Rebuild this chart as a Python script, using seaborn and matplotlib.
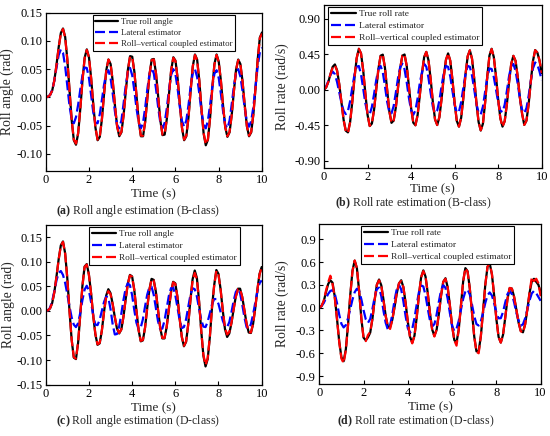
import numpy as np
import pandas as pd
import matplotlib as mpl
mpl.use("Agg")
import matplotlib.pyplot as plt
import seaborn as sns

# time axis shared by every trace (s)
time_s = [round(0.1 * i, 1) for i in range(101)]

# (a) roll angle, B-class (rad)
a_true = [0.000, 0.001, 0.004, 0.012, 0.030, 0.058, 0.089, 0.114, 0.122, 0.107,
          0.067, 0.013, -0.040, -0.076, -0.084, -0.064, -0.020, 0.030, 0.070, 0.085,
          0.071, 0.034, -0.013, -0.054, -0.076, -0.070, -0.038, 0.007, 0.048, 0.067,
          0.059, 0.028, -0.014, -0.051, -0.069, -0.062, -0.032, 0.010, 0.049, 0.073,
          0.072, 0.045, 0.002, -0.042, -0.069, -0.069, -0.043, -0.001, 0.041, 0.067,
          0.068, 0.042, 0.001, -0.041, -0.067, -0.066, -0.038, 0.006, 0.048, 0.071,
          0.065, 0.033, -0.012, -0.054, -0.076, -0.069, -0.036, 0.012, 0.055, 0.076,
          0.067, 0.030, -0.020, -0.064, -0.085, -0.075, -0.036, 0.016, 0.059, 0.076,
          0.063, 0.029, -0.015, -0.053, -0.070, -0.062, -0.031, 0.011, 0.049, 0.067,
          0.059, 0.028, -0.014, -0.051, -0.069, -0.062, -0.030, 0.017, 0.067, 0.106,
          0.115]
a_lateral = [0.000, 0.001, 0.004, 0.013, 0.030, 0.053, 0.075, 0.085, 0.079, 0.055,
             0.020, -0.015, -0.039, -0.046, -0.035, -0.013, 0.014, 0.039, 0.053, 0.052,
             0.034, 0.004, -0.027, -0.045, -0.046, -0.030, -0.004, 0.023, 0.043, 0.048,
             0.034, 0.006, -0.025, -0.049, -0.055, -0.041, -0.011, 0.021, 0.045, 0.052,
             0.039, 0.011, -0.020, -0.045, -0.055, -0.045, -0.018, 0.015, 0.042, 0.052,
             0.042, 0.015, -0.018, -0.045, -0.055, -0.045, -0.019, 0.014, 0.040, 0.050,
             0.040, 0.015, -0.017, -0.042, -0.052, -0.041, -0.014, 0.019, 0.043, 0.050,
             0.036, 0.007, -0.025, -0.048, -0.055, -0.041, -0.013, 0.018, 0.042, 0.048,
             0.034, 0.006, -0.025, -0.049, -0.055, -0.041, -0.012, 0.020, 0.043, 0.050,
             0.037, 0.011, -0.019, -0.043, -0.052, -0.042, -0.017, 0.019, 0.055, 0.080,
             0.088]
a_coupled = [0.000, 0.001, 0.004, 0.012, 0.030, 0.057, 0.088, 0.113, 0.121, 0.106,
             0.066, 0.013, -0.040, -0.075, -0.082, -0.063, -0.020, 0.030, 0.069, 0.084,
             0.071, 0.034, -0.013, -0.054, -0.075, -0.069, -0.038, 0.007, 0.048, 0.067,
             0.059, 0.028, -0.014, -0.051, -0.068, -0.061, -0.032, 0.010, 0.049, 0.072,
             0.071, 0.045, 0.002, -0.042, -0.068, -0.068, -0.043, -0.001, 0.041, 0.066,
             0.067, 0.042, 0.001, -0.041, -0.066, -0.065, -0.038, 0.006, 0.048, 0.070,
             0.064, 0.033, -0.012, -0.054, -0.075, -0.068, -0.036, 0.012, 0.055, 0.075,
             0.066, 0.030, -0.020, -0.063, -0.083, -0.074, -0.036, 0.016, 0.058, 0.075,
             0.062, 0.029, -0.015, -0.053, -0.069, -0.061, -0.031, 0.011, 0.049, 0.066,
             0.058, 0.028, -0.014, -0.051, -0.068, -0.061, -0.030, 0.017, 0.066, 0.105,
             0.113]

# (b) roll rate, B-class (rad/s)
b_true = [0.00, 0.03, 0.10, 0.20, 0.29, 0.32, 0.245, 0.07, -0.156, -0.382,
          -0.52, -0.542, -0.41, -0.151, 0.15, 0.397, 0.517, 0.461, 0.246, -0.051,
          -0.32, -0.462, -0.43, -0.254, 0.008, 0.265, 0.431, 0.444, 0.278, -0.001,
          -0.272, -0.421, -0.392, -0.224, 0.027, 0.273, 0.432, 0.446, 0.301, 0.042,
          -0.23, -0.418, -0.452, -0.322, -0.075, 0.203, 0.413, 0.479, 0.373, 0.131,
          -0.156, -0.377, -0.449, -0.349, -0.119, 0.157, 0.376, 0.46, 0.367, 0.128,
          -0.166, -0.396, -0.469, -0.358, -0.106, 0.193, 0.424, 0.499, 0.391, 0.141,
          -0.161, -0.409, -0.519, -0.432, -0.167, 0.167, 0.432, 0.519, 0.414, 0.172,
          -0.122, -0.363, -0.469, -0.40, -0.186, 0.092, 0.327, 0.429, 0.364, 0.162,
          -0.105, -0.306, -0.447, -0.393, -0.185, 0.103, 0.365, 0.502, 0.47, 0.37,
          0.21]
b_lateral = [0.00, 0.04, 0.11, 0.19, 0.23, 0.196, 0.097, -0.033, -0.167, -0.268,
             -0.31, -0.271, -0.145, 0.026, 0.19, 0.292, 0.30, 0.196, 0.015, -0.174,
             -0.298, -0.311, -0.22, -0.056, 0.123, 0.258, 0.30, 0.222, 0.046, -0.152,
             -0.286, -0.301, -0.207, -0.037, 0.148, 0.286, 0.329, 0.258, 0.094, -0.104,
             -0.26, -0.32, -0.262, -0.11, 0.083, 0.22, 0.328, 0.291, 0.149, -0.044,
             -0.215, -0.297, -0.265, -0.137, 0.042, 0.207, 0.301, 0.289, 0.168, -0.014,
             -0.189, -0.291, -0.279, -0.158, 0.024, 0.199, 0.301, 0.29, 0.178, 0.004,
             -0.175, -0.293, -0.314, -0.215, -0.03, 0.157, 0.269, 0.262, 0.161, 0.003,
             -0.159, -0.266, -0.284, -0.192, -0.019, 0.169, 0.30, 0.325, 0.238, 0.072,
             -0.114, -0.255, -0.299, -0.233, -0.079, 0.11, 0.271, 0.345, 0.32, 0.23,
             0.12]
b_coupled = [0.00, 0.03, 0.10, 0.20, 0.28, 0.31, 0.24, 0.07, -0.156, -0.385,
             -0.525, -0.55, -0.415, -0.151, 0.15, 0.40, 0.52, 0.46, 0.246, -0.051,
             -0.32, -0.46, -0.43, -0.254, 0.008, 0.265, 0.431, 0.444, 0.278, -0.001,
             -0.272, -0.421, -0.392, -0.224, 0.027, 0.273, 0.432, 0.446, 0.301, 0.042,
             -0.23, -0.418, -0.452, -0.322, -0.075, 0.203, 0.413, 0.479, 0.373, 0.131,
             -0.156, -0.377, -0.449, -0.349, -0.119, 0.157, 0.376, 0.46, 0.367, 0.128,
             -0.166, -0.396, -0.469, -0.358, -0.106, 0.193, 0.424, 0.499, 0.391, 0.141,
             -0.161, -0.409, -0.515, -0.432, -0.167, 0.167, 0.432, 0.515, 0.414, 0.172,
             -0.122, -0.363, -0.469, -0.40, -0.186, 0.092, 0.327, 0.429, 0.364, 0.162,
             -0.105, -0.306, -0.447, -0.393, -0.185, 0.103, 0.365, 0.50, 0.47, 0.37,
             0.21]

# (c) roll angle, D-class (rad)
c_true = [0.000, 0.001, 0.005, 0.016, 0.038, 0.070, 0.105, 0.133, 0.141, 0.117,
          0.066, 0.001, -0.058, -0.095, -0.098, -0.065, -0.008, 0.051, 0.090, 0.095,
          0.074, 0.036, -0.010, -0.048, -0.069, -0.066, -0.040, -0.002, 0.031, 0.044,
          0.036, 0.014, -0.013, -0.036, -0.046, -0.038, -0.012, 0.023, 0.055, 0.073,
          0.070, 0.043, 0.001, -0.039, -0.062, -0.060, -0.034, 0.006, 0.043, 0.065,
          0.063, 0.039, 0.002, -0.034, -0.056, -0.056, -0.033, 0.003, 0.038, 0.059,
          0.056, 0.028, -0.015, -0.053, -0.072, -0.063, -0.027, 0.022, 0.064, 0.082,
          0.067, 0.020, -0.040, -0.091, -0.113, -0.098, -0.053, 0.007, 0.052, 0.083,
          0.075, 0.043, 0.000, -0.037, -0.053, -0.046, -0.025, 0.003, 0.029, 0.045,
          0.045, 0.028, 0.001, -0.026, -0.044, -0.045, -0.027, 0.005, 0.043, 0.075,
          0.089]
c_lateral = [0.000, 0.001, 0.006, 0.020, 0.040, 0.062, 0.077, 0.081, 0.073, 0.057,
             0.034, 0.009, -0.013, -0.028, -0.033, -0.025, -0.004, 0.022, 0.043, 0.051,
             0.041, 0.018, -0.010, -0.028, -0.029, -0.018, 0.000, 0.018, 0.029, 0.027,
             0.004, -0.027, -0.048, -0.047, -0.032, -0.006, 0.022, 0.045, 0.056, 0.052,
             0.032, 0.002, -0.024, -0.037, -0.034, -0.017, 0.009, 0.033, 0.048, 0.049,
             0.033, 0.006, -0.021, -0.037, -0.036, -0.020, 0.005, 0.030, 0.046, 0.048,
             0.032, 0.007, -0.019, -0.035, -0.033, -0.017, 0.008, 0.032, 0.046, 0.044,
             0.029, 0.005, -0.018, -0.032, -0.033, -0.022, -0.005, 0.013, 0.024, 0.024,
             0.014, -0.003, -0.020, -0.031, -0.033, -0.023, -0.003, 0.020, 0.038, 0.045,
             0.036, 0.013, -0.013, -0.033, -0.036, -0.027, -0.008, 0.016, 0.039, 0.056,
             0.062]
c_coupled = [0.000, 0.001, 0.005, 0.016, 0.038, 0.069, 0.104, 0.132, 0.140, 0.116,
             0.066, 0.001, -0.058, -0.094, -0.097, -0.064, -0.008, 0.050, 0.089, 0.094,
             0.073, 0.036, -0.010, -0.047, -0.068, -0.065, -0.040, -0.003, 0.029, 0.040,
             0.034, 0.014, -0.012, -0.035, -0.045, -0.038, -0.012, 0.023, 0.054, 0.072,
             0.069, 0.043, 0.001, -0.039, -0.061, -0.059, -0.034, 0.006, 0.042, 0.064,
             0.062, 0.039, 0.002, -0.034, -0.055, -0.055, -0.033, 0.003, 0.037, 0.058,
             0.055, 0.028, -0.015, -0.052, -0.071, -0.062, -0.027, 0.021, 0.061, 0.077,
             0.064, 0.019, -0.040, -0.089, -0.110, -0.096, -0.052, 0.007, 0.051, 0.081,
             0.073, 0.042, 0.001, -0.034, -0.048, -0.043, -0.024, 0.003, 0.028, 0.044,
             0.044, 0.028, 0.001, -0.026, -0.043, -0.044, -0.027, 0.005, 0.042, 0.074,
             0.088]

# (d) roll rate, D-class (rad/s)
d_true = [0.00, 0.02, 0.08, 0.20, 0.31, 0.36, 0.328, 0.144, -0.143, -0.443,
          -0.653, -0.705, -0.548, -0.221, 0.168, 0.485, 0.619, 0.519, 0.219, -0.143,
          -0.394, -0.43, -0.39, -0.33, -0.15, 0.10, 0.30, 0.37, 0.295, 0.106,
          -0.11, -0.251, -0.257, -0.158, 0.008, 0.187, 0.318, 0.36, 0.269, 0.062,
          -0.187, -0.384, -0.46, -0.369, -0.132, 0.162, 0.399, 0.49, 0.408, 0.193,
          -0.073, -0.288, -0.37, -0.292, -0.088, 0.156, 0.339, 0.387, 0.269, 0.029,
          -0.239, -0.427, -0.46, -0.286, 0.03, 0.346, 0.52, 0.48, 0.253, -0.069,
          -0.38, -0.575, -0.573, -0.372, -0.041, 0.304, 0.537, 0.581, 0.436, 0.16,
          -0.15, -0.385, -0.459, -0.358, -0.133, 0.112, 0.256, 0.251, 0.145, -0.022,
          -0.192, -0.305, -0.324, -0.218, -0.019, 0.196, 0.346, 0.38, 0.34, 0.30,
          0.20]
d_lateral = [0.00, 0.02, 0.06, 0.12, 0.18, 0.22, 0.23, 0.183, 0.061, -0.091,
             -0.213, -0.26, -0.229, -0.138, -0.018, 0.107, 0.204, 0.249, 0.22, 0.111,
             -0.033, -0.153, -0.20, -0.149, -0.019, 0.135, 0.244, 0.263, 0.153, -0.041,
             -0.199, -0.29, -0.234, -0.086, 0.096, 0.244, 0.30, 0.24, 0.082, -0.112,
             -0.27, -0.33, -0.278, -0.14, 0.04, 0.202, 0.292, 0.279, 0.163, -0.011,
             -0.169, -0.248, -0.216, -0.092, 0.076, 0.225, 0.298, 0.261, 0.118, -0.072,
             -0.238, -0.309, -0.277, -0.173, -0.027, 0.116, 0.214, 0.238, 0.172, 0.038,
             -0.111, -0.216, -0.236, -0.178, -0.065, 0.063, 0.162, 0.20, 0.159, 0.055,
             -0.063, -0.14, -0.139, -0.058, 0.067, 0.177, 0.22, 0.179, 0.072, -0.065,
             -0.162, -0.238, -0.219, -0.139, -0.022, 0.098, 0.188, 0.22, 0.19, 0.14,
             0.09]
d_coupled = [0.00, 0.02, 0.09, 0.22, 0.33, 0.42, 0.31, 0.13, -0.15, -0.45,
             -0.67, -0.73, -0.56, -0.23, 0.16, 0.48, 0.62, 0.52, 0.22, -0.14,
             -0.40, -0.44, -0.36, -0.32, -0.15, 0.10, 0.30, 0.36, 0.29, 0.10,
             -0.11, -0.25, -0.28, -0.16, 0.01, 0.19, 0.32, 0.35, 0.27, 0.06,
             -0.19, -0.39, -0.47, -0.37, -0.13, 0.16, 0.40, 0.48, 0.41, 0.19,
             -0.07, -0.29, -0.38, -0.29, -0.09, 0.16, 0.34, 0.38, 0.27, 0.03,
             -0.24, -0.43, -0.50, -0.29, 0.03, 0.35, 0.52, 0.47, 0.25, -0.07,
             -0.38, -0.58, -0.60, -0.37, -0.04, 0.30, 0.54, 0.58, 0.44, 0.16,
             -0.15, -0.39, -0.46, -0.36, -0.13, 0.11, 0.26, 0.25, 0.14, -0.02,
             -0.19, -0.31, -0.33, -0.22, -0.02, 0.20, 0.40, 0.35, 0.38, 0.32,
             0.15]

series_names = ["true", "lateral", "coupled"]
angle_labels = ["True roll angle", "Lateral estimator", "Roll\u2013vertical coupled estimator"]
rate_labels = ["True roll rate", "Lateral estimator", "Roll\u2013vertical coupled estimator"]

sns.set_theme(style="ticks")
plt.rcParams["font.family"] = ["Liberation Serif", "DejaVu Serif"]
plt.rcParams["mathtext.fontset"] = "custom"
plt.rcParams["mathtext.rm"] = "Liberation Serif"
plt.rcParams["mathtext.bf"] = "Liberation Serif:bold"
plt.rcParams["axes.edgecolor"] = "black"
plt.rcParams["axes.linewidth"] = 0.9
plt.rcParams["xtick.direction"] = "in"
plt.rcParams["ytick.direction"] = "in"
plt.rcParams["xtick.color"] = "black"
plt.rcParams["ytick.color"] = "black"

fig = plt.figure(figsize=(5.5, 4.36), dpi=100)

panels = [
    # rect, data, labels, ylabel, ylim, yticks, fmt, legend anchor, legend size,
    # caption, caption xy, ylabel x, xlabel pad
    ([0.0831, 0.6085, 0.3933, 0.3624], (a_true, a_lateral, a_coupled), angle_labels,
     "Roll angle (rad)", (-0.13, 0.15), [-0.10, -0.05, 0.00, 0.05, 0.10, 0.15], "%.2f",
     (0.218, 0.985), 6.3, r"$\mathbf{(a)}$ Roll angle estimation (B-class)", (0.250, 0.516),
     -0.146, 1.5),
    ([0.5891, 0.6154, 0.3958, 0.3724], (b_true, b_lateral, b_coupled), rate_labels,
     "Roll rate (rad/s)", (-0.99, 1.07), [-0.90, -0.45, 0.00, 0.45, 0.90], "%.2f",
     (0.02, 0.992), 6.8, r"$\mathbf{(b)}$ Roll rate estimation (B-class)", (0.751, 0.533),
     -0.160, 0.3),
    ([0.0831, 0.1177, 0.3927, 0.3669], (c_true, c_lateral, c_coupled), angle_labels,
     "Roll angle (rad)", (-0.15, 0.175), [-0.15, -0.10, -0.05, 0.00, 0.05, 0.10, 0.15], "%.2f",
     (0.202, 0.986), 6.7, r"$\mathbf{(c)}$ Roll angle estimation (D-class)", (0.251, 0.035),
     -0.144, 1.5),
    ([0.5805, 0.1200, 0.4025, 0.3662], (d_true, d_lateral, d_coupled), rate_labels,
     "Roll rate (rad/s)", (-1.0, 1.1), [-0.9, -0.6, -0.3, 0.0, 0.3, 0.6, 0.9], "%.1f",
     (0.188, 0.988), 6.8, r"$\mathbf{(d)}$ Roll rate estimation (D-class)", (0.755, 0.034),
     -0.135, 1.5),
]

palette = {"true": "black", "lateral": "#0000ff", "coupled": "#ff0000"}
dashes = {"true": "", "lateral": (4.5, 1.8), "coupled": (4.5, 1.8)}

for (rect, traces, labels, ylabel, ylim, yticks, fmt, anchor, legsize,
     caption, cap_xy, ylab_x, xpad) in panels:
    ax = fig.add_axes(rect)
    df = pd.DataFrame({
        "t": time_s * 3,
        "value": list(traces[0]) + list(traces[1]) + list(traces[2]),
        "series": sum([[name] * len(time_s) for name in series_names], []),
    })
    df["series"] = df["series"].map(dict(zip(series_names, labels)))
    pal = {labels[i]: palette[n] for i, n in enumerate(series_names)}
    dsh = {labels[i]: dashes[n] for i, n in enumerate(series_names)}
    sns.lineplot(data=df, x="t", y="value", hue="series", style="series",
                 hue_order=labels, style_order=labels, palette=pal, dashes=dsh,
                 estimator=None, sort=False, linewidth=1.6, ax=ax)
    ax.set_xlim(0, 10)
    ax.set_ylim(*ylim)
    ax.set_xticks([0, 2, 4, 6, 8, 10])
    ax.set_yticks(yticks)
    ax.yaxis.set_major_formatter(mpl.ticker.FormatStrFormatter(fmt))
    ax.tick_params(labelsize=9, length=3, width=0.8, pad=2.5)
    ax.set_xlabel("Time (s)", fontsize=9.5, labelpad=xpad)
    ax.set_ylabel(ylabel, fontsize=9.8)
    ax.yaxis.set_label_coords(ylab_x, 0.5)
    for sp in ax.spines.values():
        sp.set_visible(True)
        sp.set_color("black")
    sns.move_legend(ax, "upper left", bbox_to_anchor=anchor, title=None,
                    frameon=True, fancybox=False, framealpha=1, edgecolor="black",
                    fontsize=legsize, borderpad=0.3, labelspacing=0.35,
                    handlelength=2.6, handletextpad=0.3, borderaxespad=0)
    ax.get_legend().get_frame().set_linewidth(0.8)
    fig.text(cap_xy[0], cap_xy[1], caption, ha="center", va="center", fontsize=8.5)

fig.savefig("out.png", dpi=100)
